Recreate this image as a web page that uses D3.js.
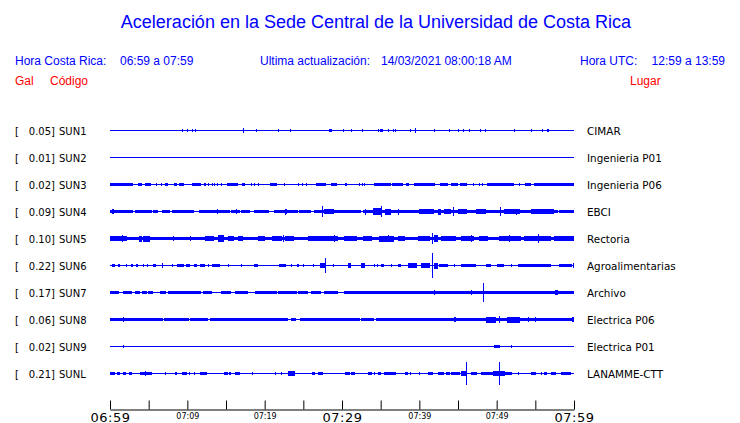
<!DOCTYPE html>
<html><head><meta charset="utf-8">
<script src="https://cdn.jsdelivr.net/npm/d3@7"></script>
<style>
html,body{margin:0;padding:0;background:#fff;}
svg{display:block;}
</style></head>
<body>
<script>
// ---- data ----
const title = "Aceleración en la Sede Central de la Universidad de Costa Rica";
const codes = ["SUN1","SUN2","SUN3","SUN4","SUN5","SUN6","SUN7","SUN8","SUN9","SUNL"];
const places = ["CIMAR","Ingenieria P01","Ingenieria P06","EBCI","Rectoria","Agroalimentarias","Archivo","Electrica P06","Electrica P01","LANAMME-CTT"];
const peaks = [0.05,0.01,0.02,0.09,0.10,0.22,0.17,0.06,0.02,0.21];
const tickLabels = ["06:59","07:04","07:09","07:14","07:19","07:24","07:29","07:34","07:39","07:44","07:49","07:54","07:59"];
const bigTicks = ["06:59","07:29","07:59"];
const smallTicks = ["07:09","07:19","07:39","07:49"];
// segments: [start minute after 06:59, end minute, half amplitude in gal]
const sun1 = [[9.3,9.35,0.015],[10.0,10.05,0.015],[10.6,10.65,0.015],[11.0,11.1,0.03],[17.2,17.3,0.035],[18.9,18.95,0.02],[21.7,21.75,0.015],[23.3,23.35,0.02],[28.3,28.65,0.02],[30.1,30.15,0.015],[31.1,31.15,0.015],[32.6,32.65,0.015],[34.6,34.65,0.015],[34.9,35.25,0.025],[35.9,35.95,0.015],[36.6,36.65,0.02],[36.8,36.85,0.02],[38.8,38.85,0.015],[39.4,39.5,0.045],[41.9,42.0,0.03],[43.9,43.95,0.015],[45.0,45.1,0.02],[45.7,45.75,0.02],[46.4,46.45,0.02],[47.8,47.85,0.02],[48.5,48.55,0.02],[52.3,52.35,0.02],[54.5,54.55,0.015],[55.8,55.95,0.02],[56.5,56.7,0.03]];
const sun2 = [];
const sun3 = [[0,3.0,0.02],[3.66,4.17,0.02],[4.52,5.25,0.02],[5.89,5.95,0.015],[6.58,6.64,0.015],[7.1,7.44,0.02],[8.26,8.69,0.02],[8.95,9.59,0.02],[10.62,11.83,0.02],[12.13,12.39,0.02],[12.73,12.9,0.02],[13.16,13.22,0.015],[13.46,13.52,0.015],[13.81,13.87,0.015],[14.41,14.47,0.015],[15.14,16.56,0.02],[17.08,17.42,0.02],[18.28,18.34,0.015],[18.62,18.68,0.015],[19.18,19.24,0.015],[20.73,21.59,0.02],[22.49,22.55,0.015],[24.3,24.36,0.015],[24.86,24.92,0.015],[25.38,25.44,0.015],[26.58,27.87,0.02],[28.6,29.33,0.02],[30.41,30.67,0.02],[32.26,32.32,0.015],[32.56,32.62,0.015],[32.9,32.96,0.015],[34.11,36.26,0.02],[36.43,37.85,0.02],[38.28,38.71,0.02],[39.35,42.02,0.02],[42.67,43.66,0.02],[44.09,44.95,0.02],[45.29,46.24,0.02],[46.92,46.98,0.015],[47.66,47.72,0.015],[48.04,48.1,0.015],[48.73,52.26,0.02],[52.9,52.96,0.015],[53.63,54.41,0.02],[54.84,60,0.02]];
const sun4 = [[0,3.0,0.02],[3.2,5.4,0.02],[5.6,6.3,0.02],[6.7,7.7,0.02],[8.0,10.9,0.02],[11.5,15.5,0.02],[15.7,16.8,0.02],[17.0,18.2,0.02],[18.6,20.6,0.02],[21.2,24.3,0.02],[24.5,26.0,0.02],[26.4,32.5,0.02],[32.7,57.9,0.02],[58.1,60,0.025],[0.2,0.4,0.035],[2.2,2.3,0.03],[4.2,4.3,0.03],[9.2,9.3,0.03],[13.8,13.9,0.035],[16.3,16.4,0.04],[22.6,22.7,0.05],[22.8,22.9,0.035],[27.4,27.5,0.09],[27.7,29.0,0.035],[33.0,33.1,0.05],[34.0,35.1,0.06],[35.1,35.2,0.09],[35.5,36.3,0.05],[37.2,37.3,0.05],[40.0,41.9,0.04],[42.4,42.8,0.05],[43.2,44.1,0.04],[44.3,44.4,0.07],[45.0,46.2,0.035],[47.3,48.6,0.04],[50.4,50.5,0.07],[51.0,53.1,0.04],[52.5,52.6,0.05],[54.4,57.4,0.035]];
const sun5 = [[0,60,0.025],[0,2.2,0.04],[1.5,1.6,0.06],[3.7,4.1,0.05],[4.3,5.2,0.05],[8.2,8.3,0.04],[10.3,10.4,0.035],[12.3,13.5,0.035],[14.0,14.8,0.055],[15.3,16.1,0.04],[16.6,17.3,0.04],[19.1,20.0,0.04],[20.9,22.2,0.04],[22.4,22.5,0.06],[22.6,23.7,0.035],[25.6,29.5,0.045],[29.0,29.1,0.06],[30.3,32.0,0.035],[32.7,33.8,0.04],[34.8,36.8,0.05],[35.9,36.0,0.065],[37.2,38.1,0.035],[39.8,41.3,0.04],[41.6,41.7,0.1],[41.9,42.4,0.06],[42.8,44.7,0.04],[45.4,47.1,0.045],[46.7,46.8,0.06],[47.7,48.8,0.04],[50.3,53.1,0.045],[51.6,51.7,0.06],[53.5,57.0,0.045],[55.3,55.4,0.075],[57.4,60,0.035]];
const sun6 = [[0.2,0.6,0.02],[1.0,1.3,0.02],[2.1,2.16,0.015],[2.7,3.0,0.02],[3.4,3.7,0.02],[4.3,4.36,0.015],[4.8,4.86,0.015],[5.6,6.0,0.02],[6.7,6.8,0.035],[8.0,8.06,0.015],[8.6,9.5,0.02],[9.8,10.3,0.02],[10.8,11.2,0.02],[11.6,12.2,0.02],[12.7,12.76,0.015],[13.2,14.2,0.02],[15.2,15.26,0.015],[17.0,17.1,0.03],[18.6,19.1,0.02],[21.9,22.8,0.02],[23.4,23.46,0.015],[24.2,24.4,0.03],[24.9,24.96,0.015],[26.2,26.26,0.015],[27.1,27.7,0.04],[27.8,27.9,0.13],[28.9,28.96,0.02],[30.8,31.2,0.035],[32.5,33.0,0.035],[34.1,34.16,0.015],[34.5,34.56,0.015],[35.1,35.5,0.02],[36.3,36.36,0.015],[37.2,37.6,0.02],[38.5,39.6,0.04],[40.2,41.3,0.045],[41.7,41.8,0.22],[41.9,42.4,0.05],[42.6,43.7,0.025],[44.5,44.56,0.015],[45.4,47.3,0.02],[48.6,49.2,0.03],[50.1,51.0,0.02],[51.8,51.86,0.015],[52.7,57.0,0.02],[58.1,59.8,0.02],[59.9,60,0.035]];
const sun7 = [[0,1.1,0.02],[1.7,2.8,0.02],[3.2,3.9,0.02],[4.1,4.7,0.02],[4.9,5.6,0.025],[6.5,7.3,0.02],[7.5,11.8,0.025],[12.0,13.1,0.02],[14.4,15.7,0.02],[16.1,17.8,0.02],[18.7,21.5,0.025],[21.1,21.2,0.03],[21.7,24.1,0.02],[24.3,25.6,0.03],[26.0,27.3,0.02],[27.7,29.5,0.03],[30.3,60,0.02],[32.0,32.1,0.03],[41.9,42.0,0.035],[42.4,42.5,0.03],[46.7,46.8,0.035],[48.2,48.3,0.16],[50.5,50.6,0.03],[57.6,58.0,0.035],[59.1,59.2,0.03]];
const sun8 = [[0,6.8,0.025],[7.0,10.2,0.025],[10.4,12.7,0.025],[12.9,23.0,0.025],[23.4,24.0,0.025],[24.6,32.3,0.025],[32.5,34.2,0.025],[34.4,60,0.025],[1.7,1.8,0.04],[28.6,28.7,0.03],[41.3,41.4,0.03],[44.5,44.7,0.035],[48.6,49.9,0.05],[50.3,50.4,0.055],[51.4,53.1,0.05],[54.0,54.1,0.035],[54.9,55.0,0.035],[59.7,59.9,0.035]];
const sun9 = [[0.9,0.95,0.01],[1.7,1.8,0.02],[49.7,50.5,0.015],[50.3,50.4,0.02],[51.9,52.0,0.02]];
const sunl = [[0,0.6,0.02],[0.9,1.3,0.02],[1.7,2.1,0.02],[2.4,2.8,0.02],[3.9,5.4,0.03],[4.5,4.6,0.045],[7.1,7.16,0.015],[8.4,8.7,0.02],[9.3,9.9,0.02],[10.2,10.26,0.015],[10.9,10.96,0.015],[11.6,12.5,0.02],[14.8,15.3,0.02],[15.4,15.7,0.025],[16.1,16.8,0.02],[18.4,18.46,0.02],[21.4,21.46,0.015],[22.1,22.16,0.015],[23.0,23.9,0.035],[23.3,23.4,0.045],[26.1,26.5,0.02],[26.9,27.5,0.02],[30.4,31.0,0.02],[31.2,31.7,0.02],[33.3,33.8,0.02],[34.2,34.26,0.015],[34.7,35.1,0.02],[35.4,37.0,0.02],[38.1,38.5,0.02],[38.8,38.86,0.015],[40.0,40.06,0.015],[41.1,41.7,0.02],[42.4,43.2,0.025],[43.4,43.9,0.02],[44.1,45.2,0.02],[45.4,46.0,0.035],[46.05,46.15,0.2],[46.7,47.5,0.025],[48.0,49.5,0.02],[49.5,51.0,0.045],[50.35,50.45,0.21],[51.0,52.0,0.03],[52.8,52.86,0.015],[54.4,55.1,0.02],[55.7,55.8,0.03],[56.1,56.5,0.02],[57.0,57.6,0.02],[58.3,59.6,0.025]];
const segments = [sun1,sun2,sun3,sun4,sun5,sun6,sun7,sun8,sun9,sunl];

// ---- chart ----
const W = 740, H = 423;
const svg = d3.select("body").append("svg").attr("width", W).attr("height", H);
const blue = "#0000ff", red = "#ff0000";
const sans = "'Liberation Sans', Arial, sans-serif";
const dv = "'DejaVu Sans', sans-serif";

svg.append("text").attr("x", 376).attr("y", 28).attr("text-anchor", "middle")
  .attr("font-family", sans).attr("font-size", 18).attr("fill", blue).text(title);

const hdr = [
  {x:15, t:"Hora Costa Rica:", a:"start"},
  {x:120, t:"06:59 a 07:59", a:"start"},
  {x:260, t:"Ultima actualización:", a:"start"},
  {x:381, t:"14/03/2021 08:00:18 AM", a:"start"},
  {x:580, t:"Hora UTC:", a:"start"},
  {x:725, t:"12:59 a 13:59", a:"end"}
];
svg.selectAll("text.hdr").data(hdr).join("text").attr("class","hdr")
  .attr("x", d=>d.x).attr("y", 65).attr("text-anchor", d=>d.a)
  .attr("font-family", sans).attr("font-size", 12).attr("fill", blue).text(d=>d.t);
const hdr2 = [{x:15,t:"Gal",a:"start"},{x:50,t:"Código",a:"start"},{x:630,t:"Lugar",a:"start"}];
svg.selectAll("text.hdr2").data(hdr2).join("text").attr("class","hdr2")
  .attr("x", d=>d.x).attr("y", 85).attr("text-anchor", d=>d.a)
  .attr("font-family", sans).attr("font-size", 12).attr("fill", red).text(d=>d.t);

const t0 = new Date(2021, 2, 14, 6, 59), t1 = new Date(2021, 2, 14, 7, 59);
const x = d3.scaleTime().domain([t0, t1]).range([110, 574]);
const xm = m => x(new Date(t0.getTime() + m * 60000));
const row = d3.scalePoint().domain(codes).range([130.5, 373.5]);
const amp = d3.scaleLinear().domain([-0.25, 0.25]).range([13.75, -13.75]);

const rows = svg.selectAll("g.row").data(codes).join("g").attr("class","row")
  .attr("transform", d => `translate(0,${row(d)})`);

rows.append("text").attr("x", 15).attr("y", 4).attr("font-family", dv).attr("font-size", 10)
  .attr("fill", "#000").text("[");
rows.append("text").attr("x", 55).attr("y", 4).attr("text-anchor","end").attr("font-family", dv).attr("font-size", 10)
  .attr("fill", "#000").text((d,i) => peaks[i].toFixed(2) + "]");
rows.append("text").attr("x", 59).attr("y", 4).attr("font-family", dv).attr("font-size", 10)
  .attr("fill", "#000").text(d => d);
rows.append("text").attr("x", 587).attr("y", 4).attr("font-family", dv).attr("font-size", 10.4)
  .attr("fill", "#000").text((d,i) => places[i]);

rows.append("line").attr("x1", xm(0)).attr("x2", xm(60)).attr("y1", 0).attr("y2", 0)
  .attr("stroke", blue).attr("stroke-width", 1);

rows.each(function(code, i) {
  d3.select(this).selectAll("rect").data(segments[i]).join("rect")
    .attr("x", d => Math.round(xm(d[0])))
    .attr("width", d => Math.max(1, Math.round(xm(d[1]) - xm(d[0]))))
    .attr("y", d => amp(d[2]) - 0.25)
    .attr("height", d => amp(-d[2]) - amp(d[2]) + 0.5)
    .attr("fill", blue).attr("shape-rendering", "crispEdges");
});

// axis
const ticks = d3.range(0, 61, 5).map(m => new Date(t0.getTime() + m * 60000));
const axis = d3.axisBottom(x).tickValues(ticks).tickSizeInner(-9).tickSizeOuter(0)
  .tickPadding(0).tickFormat(d3.timeFormat("%H:%M"));
const ag = svg.append("g").attr("transform", "translate(0,409.5)").call(axis);
ag.select(".domain").attr("stroke", "#000");
ag.selectAll(".tick line").attr("stroke", "#000");
ag.selectAll(".tick text").each(function(d) {
  const s = d3.timeFormat("%H:%M")(d);
  const t = d3.select(this).attr("dy", null).attr("fill", "#000").attr("font-family", dv);
  if (bigTicks.includes(s)) t.attr("y", 12).attr("font-size", 13).style("letter-spacing","0.5px");
  else if (smallTicks.includes(s)) t.attr("y", 9).attr("font-size", 8);
  else t.remove();
});
</script>
</body></html>
